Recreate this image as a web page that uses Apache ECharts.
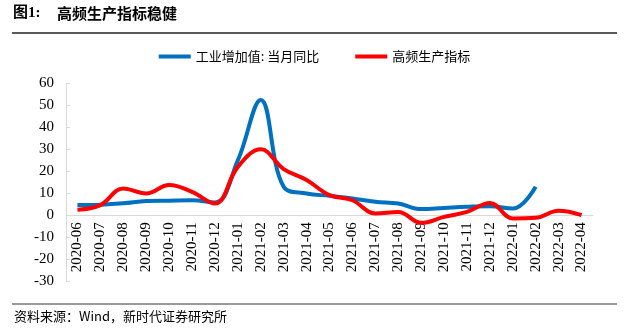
<!DOCTYPE html>
<html><head><meta charset="utf-8">
<script src="https://cdn.jsdelivr.net/npm/echarts@6/dist/echarts.min.js"></script>
<style>html,body{margin:0;padding:0;background:#fff}#c{width:629px;height:331px}</style>
</head><body><div id="c"></div>
<script>
const categories = ['2020-06','2020-07','2020-08','2020-09','2020-10','2020-11','2020-12','2021-01','2021-02','2021-03','2021-04','2021-05','2021-06','2021-07','2021-08','2021-09','2021-10','2021-11','2021-12','2022-01','2022-02','2022-03','2022-04'];
const industrialYoY = [4.6, 4.8, 5.4, 6.4, 6.6, 6.8, 5.8, 25, 52.5, 12.9, 9.9, 8.8, 7.6, 6.1, 5.3, 2.8, 3.3, 3.8, 4.1, 3.0, 12.9, null, null];
const highFreq = [2.5, 4.6, 12.2, 9.9, 13.7, 10.6, 5.3, 22, 30, 21, 16, 9.1, 6.8, 0.8, 1.5, -3.5, -0.8, 1.5, 5.6, -1.5, -1.2, 2.0, 0];
const seriesNames = ['工业增加值: 当月同比', '高频生产指标'];
const yTicks = {min: -30, max: 60, interval: 10};
const titleText = ['图1:', '高频生产指标稳健'];
const sourceText = '资料来源：Wind，新时代证券研究所';

const chart = echarts.init(document.getElementById('c'));
const serif = '"Liberation Serif", "DejaVu Serif", serif';
const cjk = '"Noto Sans CJK SC"';
const gridTop = 83.5, gridBottomY = 281;
const zeroY = gridTop + (yTicks.max / (yTicks.max - yTicks.min)) * (gridBottomY - gridTop);
chart.setOption({
  animation: false,
  backgroundColor: '#fff',
  graphic: [
    {type:'text', left: 13, top: 6, style:{text: titleText[0], font:'bold 15px "Liberation Serif", "Noto Sans CJK SC"', fill:'#000'}},
    {type:'text', left: 57, top: 6, style:{text: titleText[1], font:'bold 15px "Noto Sans CJK SC"', fill:'#000'}},
    {type:'line', shape:{x1:12, y1:33, x2:617, y2:33}, style:{stroke:'#222', lineWidth:1.5}},
    {type:'line', shape:{x1:12, y1:304, x2:617, y2:304}, style:{stroke:'#777', lineWidth:1.5}},
    {type:'text', left: 14, top: 310, style:{text: sourceText, font:'13px "Noto Sans CJK SC"', fill:'#000'}}
  ],
  legend: {
    top: 45, left: 'center',
    itemWidth: 32, itemHeight: 4, itemGap: 36,
    icon: 'rect',
    textStyle: {fontFamily: cjk, fontSize: 13, color: '#000'},
    data: seriesNames
  },
  grid: {left: 66, right: 36, top: gridTop, bottom: 331 - gridBottomY, containLabel: false},
  xAxis: {
    type: 'category', data: categories, boundaryGap: true,
    offset: -(gridBottomY - zeroY),
    axisLine: {onZero: false, lineStyle: {color: '#d9d9d9', width: 1}},
    axisTick: {show: false},
    axisLabel: {rotate: 90, margin: 7, fontFamily: serif, fontSize: 15, color: '#000', interval: 0}
  },
  yAxis: {
    type: 'value', min: yTicks.min, max: yTicks.max, interval: yTicks.interval,
    axisLine: {show: true, lineStyle: {color: '#d9d9d9'}},
    axisTick: {show: true, inside: true, length: 4, lineStyle: {color: '#d9d9d9'}},
    splitLine: {show: false},
    axisLabel: {margin: 12, fontFamily: serif, fontSize: 15, color: '#000'}
  },
  series: [
    {name: seriesNames[0], type: 'line', data: industrialYoY, smooth: 0.4, symbol: 'none', lineStyle: {color: '#0070C0', width: 4}, itemStyle: {color: '#0070C0'}},
    {name: seriesNames[1], type: 'line', data: highFreq, smooth: 0.4, symbol: 'none', lineStyle: {color: '#FF0000', width: 4}, itemStyle: {color: '#FF0000'}}
  ]
});
</script></body></html>
